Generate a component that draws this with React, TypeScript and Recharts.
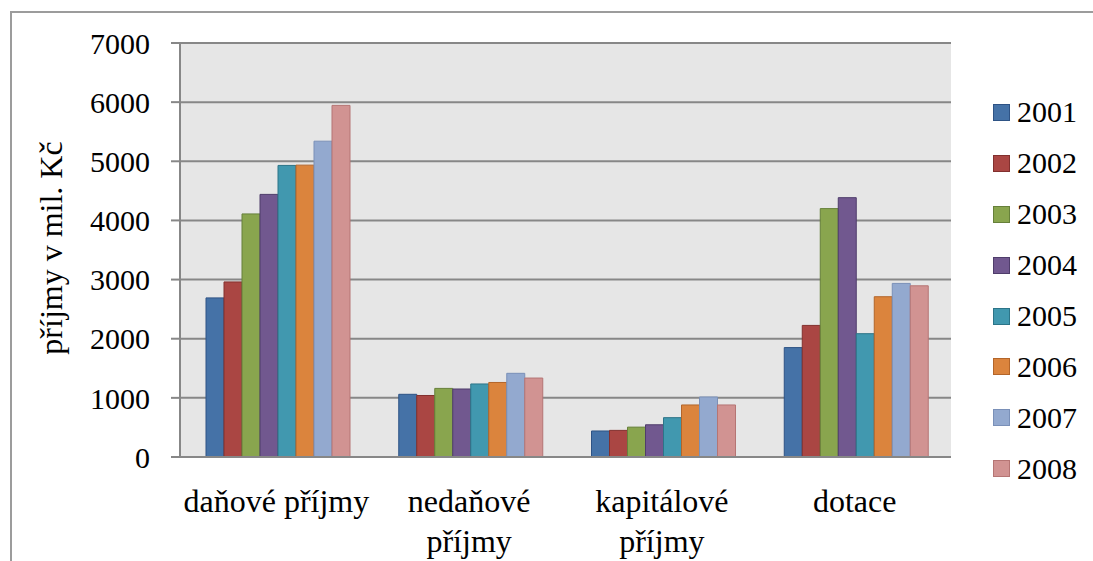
import React from 'react';
import {
  BarChart,
  Bar,
  XAxis,
  YAxis,
  CartesianGrid,
} from 'recharts';

const categories = ['daňové příjmy', 'nedaňové příjmy', 'kapitálové příjmy', 'dotace'];
const years = ['2001', '2002', '2003', '2004', '2005', '2006', '2007', '2008'];

// příjmy v mil. Kč, one array per year, in category order
const y2001 = [2690, 1060, 440, 1850];
const y2002 = [2960, 1040, 450, 2225];
const y2003 = [4110, 1160, 505, 4200];
const y2004 = [4440, 1150, 545, 4385];
const y2005 = [4930, 1235, 665, 2085];
const y2006 = [4935, 1260, 880, 2710];
const y2007 = [5340, 1415, 1015, 2935];
const y2008 = [5945, 1335, 880, 2895];

const yTicks = [0, 1000, 2000, 3000, 4000, 5000, 6000, 7000];

const series = [y2001, y2002, y2003, y2004, y2005, y2006, y2007, y2008];
const fills = ['#4572A7', '#AA4643', '#89A54E', '#71588F', '#4198AF', '#DB843D', '#93A9CF', '#D19392'];
const strokes = ['#2E5385', '#82302E', '#66803A', '#4F3D6B', '#2C7488', '#B3652A', '#7A90B8', '#B57574'];

const data = categories.map((name, i) => {
  const row: Record<string, string | number> = { name };
  years.forEach((yr, s) => {
    row[yr] = series[s][i];
  });
  return row;
});

const FONT = '"Liberation Serif", "Times New Roman", serif';
const GRID = '#878787';
const CAT_SIZE = 32;

// split a category name into lines that fit the band width
let measureCtx: CanvasRenderingContext2D | null = null;
const wrapWords = (text: string, maxWidth: number, font: string) => {
  if (!measureCtx) measureCtx = document.createElement('canvas').getContext('2d');
  const ctx = measureCtx!;
  ctx.font = font;
  const lines: string[] = [];
  let cur = '';
  text.split(' ').forEach((w) => {
    const next = cur ? cur + ' ' + w : w;
    if (cur && ctx.measureText(next).width > maxWidth) {
      lines.push(cur);
      cur = w;
    } else {
      cur = next;
    }
  });
  if (cur) lines.push(cur);
  return lines;
};

const CategoryTick = (props: any) => {
  const { x, y, payload } = props;
  const lines = wrapWords(String(payload.value), 192, `${CAT_SIZE}px ${FONT}`);
  return (
    <text x={x} y={y + 47} textAnchor="middle" fontSize={CAT_SIZE} fontFamily={FONT} fill="#000">
      {lines.map((ln, i) => (
        <tspan key={i} x={x} dy={i === 0 ? 0 : 40}>
          {ln}
        </tspan>
      ))}
    </text>
  );
};

const YearLegend = () => (
  <div
    style={{
      position: 'absolute',
      left: 993,
      top: 87,
      fontFamily: FONT,
      fontSize: 30,
      color: '#000',
    }}
  >
    {years.map((yr, i) => (
      <div key={yr} style={{ display: 'flex', alignItems: 'center', height: 50.9 }}>
        <span
          style={{
            width: 15,
            height: 15,
            background: fills[i],
            border: `1px solid ${strokes[i]}`,
            marginRight: 7,
            display: 'inline-block',
          }}
        />
        <span>{yr}</span>
      </div>
    ))}
  </div>
);

const AxisTitle = () => (
  <text
    x={51}
    y={248}
    transform="rotate(-90 51 248)"
    textAnchor="middle"
    dominantBaseline="central"
    fontFamily={FONT}
    fontSize={32}
    fill="#000"
  >
    příjmy v mil. Kč
  </text>
);

export default function App() {
  return (
    <div
      style={{
        position: 'absolute',
        left: 0,
        top: 0,
        width: 1093,
        height: 561,
        background: '#fff',
        overflow: 'hidden',
      }}
    >
      <div
        style={{
          position: 'absolute',
          left: 10,
          top: 11,
          width: 1200,
          height: 700,
          border: '2px solid #9C9C9C',
          boxSizing: 'border-box',
        }}
      />
      <div style={{ position: 'absolute', left: 0, top: 0 }}>
        <BarChart
          width={1093}
          height={561}
          data={data}
          margin={{ top: 43, right: 142, bottom: 0, left: 0 }}
          barCategoryGap={26}
          barGap={0}
        >
          <CartesianGrid vertical={false} fill="#E6E6E6" stroke={GRID} strokeWidth={2} />
          <XAxis
            dataKey="name"
            height={104}
            axisLine={{ stroke: GRID, strokeWidth: 2 }}
            tickLine={false}
            tick={<CategoryTick />}
            interval={0}
          />
          <YAxis
            width={180}
            domain={[0, 7000]}
            ticks={yTicks}
            interval={0}
            axisLine={{ stroke: GRID, strokeWidth: 2 }}
            tickLine={{ stroke: GRID, strokeWidth: 2 }}
            tickSize={9}
            tickMargin={21}
            tick={{ fill: '#000', fontSize: 30, fontFamily: FONT }}
          />
          {years.map((yr, i) => (
            <Bar
              key={yr}
              dataKey={yr}
              fill={fills[i]}
              stroke={strokes[i]}
              strokeWidth={1}
              isAnimationActive={false}
            />
          ))}
          <AxisTitle />
        </BarChart>
      </div>
      <YearLegend />
    </div>
  );
}
